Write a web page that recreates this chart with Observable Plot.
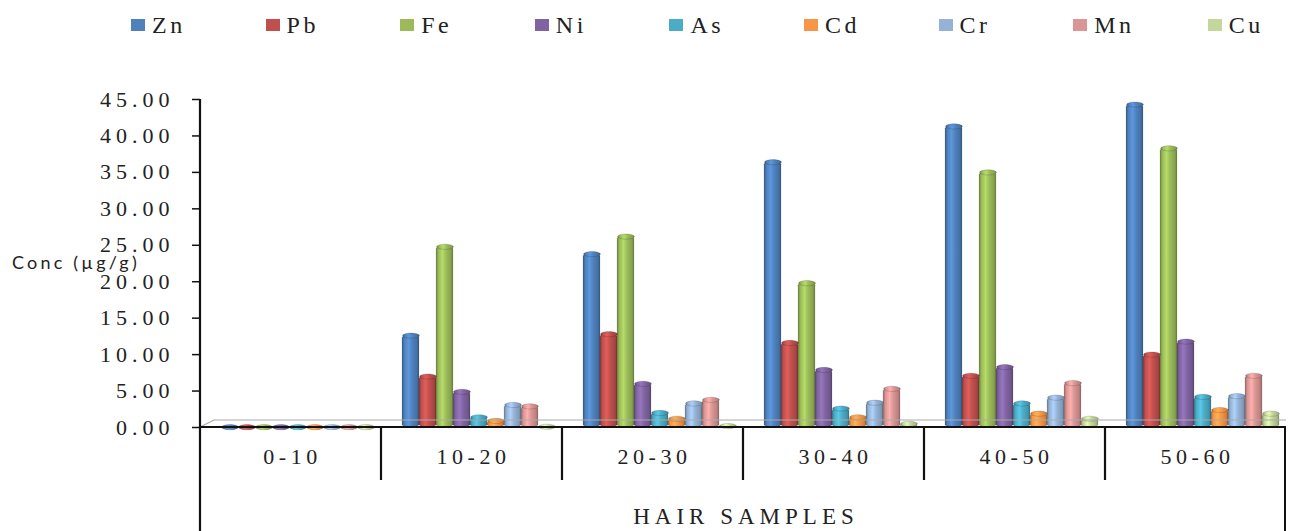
<!DOCTYPE html>
<html><head><meta charset="utf-8">
<script src="https://cdn.jsdelivr.net/npm/d3@7"></script>
<script src="https://cdn.jsdelivr.net/npm/@observablehq/plot@0.6"></script>
<style>
body{margin:0;background:#fff;}
#legend{position:relative;height:50px;width:1291px;font-family:"Liberation Serif","DejaVu Serif",serif;font-size:24px;color:#222;}
.item{position:absolute;top:0;height:50px;display:flex;align-items:center;letter-spacing:3.5px;}
.sw{width:14px;height:12px;margin-right:7px;}
#chart svg text{font-family:"Liberation Serif","DejaVu Serif",serif;}
#chart svg g[aria-label="y-axis tick label"] text{letter-spacing:5px;}
</style></head><body>
<div id="legend"></div>
<svg id="defs" width="0" height="0" style="position:absolute"><defs></defs></svg>
<div id="chart"></div>
<script>
const groups = ["0-10","10-20","20-30","30-40","40-50","50-60"];
const metals = ["Zn","Pb","Fe","Ni","As","Cd","Cr","Mn","Cu"];
const colors = ["#4F81BD","#C0504D","#9BBB59","#8064A2","#4BACC6","#F79646","#95B3D7","#D99694","#C3D69B"];
const Zn = [0.05, 12.6, 23.8, 36.4, 41.3, 44.3];
const Pb = [0.05, 7.0, 12.8, 11.6, 7.1, 10.0];
const Fe = [0.05, 24.8, 26.2, 19.8, 35.0, 38.3];
const Ni = [0.05, 4.9, 6.0, 7.9, 8.3, 11.8];
const As = [0.05, 1.4, 2.0, 2.6, 3.3, 4.2];
const Cd = [0.05, 0.9, 1.2, 1.4, 1.9, 2.4];
const Cr = [0.05, 3.1, 3.3, 3.4, 4.1, 4.3];
const Mn = [0.05, 2.9, 3.8, 5.3, 6.1, 7.1];
const Cu = [0.05, 0.1, 0.2, 0.5, 1.2, 1.9];
const yTicks = [0,5,10,15,20,25,30,35,40,45];
const yLabel = "Conc (µg/g)";
const xLabel = "HAIR SAMPLES";

const series = {Zn, Pb, Fe, Ni, As, Cd, Cr, Mn, Cu};
const data = [];
groups.forEach((g, gi) => metals.forEach(m => data.push({group: g, metal: m, value: series[m][gi]})));

// legend
const leg = d3.select("#legend");
metals.forEach((m, i) => {
  const it = leg.append("div").attr("class","item").style("left", (131 + i*134.6) + "px");
  it.append("div").attr("class","sw").style("background", colors[i]);
  it.append("span").text(m);
});

// gradients for cylinder shading
const defs = d3.select("#defs defs");
colors.forEach((c, i) => {
  const gr = defs.append("linearGradient").attr("id","g"+i).attr("x1",0).attr("x2",1).attr("y1",0).attr("y2",0);
  const base = d3.color(c);
  [[0, base.darker(0.9)],[0.15, base],[0.38, base.brighter(0.45)],[0.6, base],[0.88, base.darker(0.4)],[1, base.darker(1)]]
    .forEach(([o, col]) => gr.append("stop").attr("offset", o).attr("stop-color", col.formatHex()));
});

const ellipse = {
  draw(ctx) {
    const rx = 8.4, ry = 2.6, k = 0.5523;
    ctx.moveTo(rx, 0);
    ctx.bezierCurveTo(rx, ry*k, rx*k, ry, 0, ry);
    ctx.bezierCurveTo(-rx*k, ry, -rx, ry*k, -rx, 0);
    ctx.bezierCurveTo(-rx, -ry*k, -rx*k, -ry, 0, -ry);
    ctx.bezierCurveTo(rx*k, -ry, rx, -ry*k, rx, 0);
    ctx.closePath();
  }
};

const serif = '"Liberation Serif","DejaVu Serif",serif';
const fmt = d3.format(".2f");
const plot = Plot.plot({
  width: 1291, height: 481,
  marginTop: 49, marginBottom: 104, marginLeft: 198, marginRight: 4,
  style: {fontSize: "20px", color: "#222", background: "#fff"},
  fx: {domain: groups, padding: 0, axis: null},
  x: {domain: metals, paddingInner: 0, paddingOuter: 0.736, axis: null},
  y: {domain: [0, 45], axis: null},
  color: {domain: metals, range: metals.map((m, i) => `url(#g${i})`)},
  marks: [
    Plot.axisY(yTicks, {tickFormat: fmt, tickSize: 8, tickPadding: 18, label: null, stroke: "#111", strokeWidth: 1.5, fontSize: 22, fontFamily: serif}),
    Plot.barY(data, {fx: "group", x: "metal", y: "value", fill: "metal", dx: 7, rx: 8.4, ry: 2.6, stroke: "rgba(0,0,0,0.18)", strokeWidth: 0.6}),
    Plot.dot(data, {fx: "group", x: "metal", y: "value", fill: "metal", dx: 7, symbol: ellipse, stroke: "rgba(0,0,0,0.25)", strokeWidth: 0.6})
  ]
});
document.getElementById("chart").appendChild(plot);

// table-like axis decoration drawn from the plot's scales
const svg = d3.select(plot);
const fx = plot.scale("fx"), ys = plot.scale("y");
const y0 = ys.apply(0), yTop = ys.apply(45);
const bw = fx.bandwidth;
const xL = fx.apply(groups[0]), xR = fx.apply(groups[groups.length-1]) + bw;
const deco = svg.append("g");
// 3D floor
deco.append("path").attr("d", `M${xL},${y0} L${xL+14},${y0-7} L${xR},${y0-7}`).attr("fill","none").attr("stroke","#aaa").attr("stroke-width",1.2);
deco.append("line").attr("x1",xL).attr("x2",xR).attr("y1",y0).attr("y2",y0).attr("stroke","#111").attr("stroke-width",2);
deco.append("line").attr("x1",xL).attr("x2",xL).attr("y1",yTop).attr("y2",481).attr("stroke","#111").attr("stroke-width",2.2);
deco.append("line").attr("x1",xR-1).attr("x2",xR-1).attr("y1",y0).attr("y2",481).attr("stroke","#111").attr("stroke-width",2);
groups.slice(1).forEach(g => {
  const x = fx.apply(g);
  deco.append("line").attr("x1",x).attr("x2",x).attr("y1",y0).attr("y2",y0+53).attr("stroke","#111").attr("stroke-width",2.2);
});
groups.forEach(g => {
  deco.append("text").attr("x", fx.apply(g) + bw/2 + 2).attr("y", y0 + 32).attr("text-anchor","middle").attr("dominant-baseline","middle")
    .attr("font-family", serif).style("font-size","22px").style("letter-spacing","4.5px").attr("fill","#222").text(g);
});
deco.append("text").attr("x", (xL + xR)/2 + 3).attr("y", y0 + 92).attr("text-anchor","middle").attr("dominant-baseline","middle")
  .attr("font-family", serif).style("font-size","23px").style("letter-spacing","5px").attr("fill","#222").text(xLabel);
deco.append("text").attr("x", 12).attr("y", (y0 + yTop)/2 + 1).attr("text-anchor","start").attr("dominant-baseline","middle")
  .style("font-family","Lato, 'Open Sans', sans-serif").style("font-size","18px").style("letter-spacing","3.2px").attr("fill","#222").text(yLabel);
</script>
</body></html>
